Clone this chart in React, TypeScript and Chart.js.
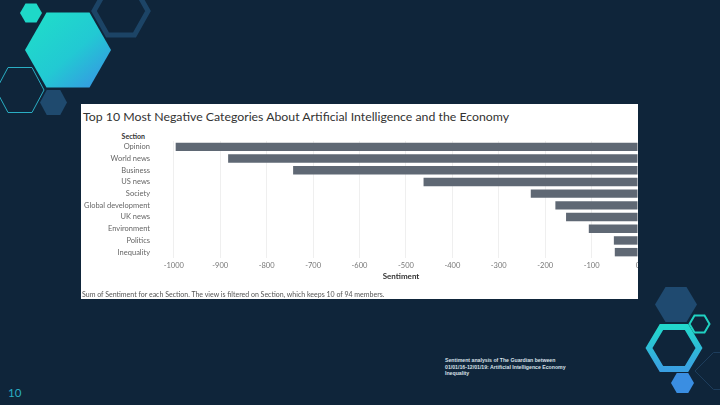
import React, { useEffect, useRef } from "react";
import { Chart, registerables } from "chart.js";

Chart.register(...registerables);

const categories = [
  "Opinion",
  "World news",
  "Business",
  "US news",
  "Society",
  "Global development",
  "UK news",
  "Environment",
  "Politics",
  "Inequality",
];
const sentiment = [-996, -883, -743, -462, -231, -178, -155, -106, -52, -50];
const xTickValues = [-1000, -900, -800, -700, -600, -500, -400, -300, -200, -100, 0];

const titleText = "Top 10 Most Negative Categories About Artificial Intelligence and the Economy";
const xAxisTitle = "Sentiment";
const yAxisTitle = "Section";
const footerText =
  "Sum of Sentiment for each Section. The view is filtered on Section, which keeps 10 of 94 members.";
const captionLines = [
  "Sentiment analysis of The Guardian between",
  "01/01/16-12/01/19: Artificial Intelligence Economy",
  "Inequality",
];

const FONT = "Lato, 'Open Sans', 'DejaVu Sans', sans-serif";

function hexPoints(cx: number, cy: number, w: number, h: number) {
  const pts = [
    [cx - w / 2, cy],
    [cx - w / 4, cy - h / 2],
    [cx + w / 4, cy - h / 2],
    [cx + w / 2, cy],
    [cx + w / 4, cy + h / 2],
    [cx - w / 4, cy + h / 2],
  ];
  return pts.map((p) => p.join(",")).join(" ");
}

function Decorations() {
  return (
    <svg
      width={720}
      height={405}
      style={{ position: "absolute", left: 0, top: 0 }}
      xmlns="http://www.w3.org/2000/svg"
    >
      <defs>
        <linearGradient id="g1" x1="0" y1="0" x2="1" y2="1">
          <stop offset="0" stopColor="#1fe0c8" />
          <stop offset="0.55" stopColor="#22c9d3" />
          <stop offset="1" stopColor="#3a8ee6" />
        </linearGradient>
        <linearGradient id="g2" x1="0" y1="0" x2="0" y2="1">
          <stop offset="0" stopColor="#22d8cc" />
          <stop offset="1" stopColor="#3aa0e2" />
        </linearGradient>
      </defs>
      <polygon points={hexPoints(121, 11, 54, 48)} fill="none" stroke="#1c4466" strokeWidth={5} />
      <polygon points={hexPoints(68, 50, 86, 75)} fill="url(#g1)" />
      <polygon points={hexPoints(31, 13, 22, 19)} fill="#1ed8c8" />
      <polygon points={hexPoints(20, 90, 48, 45)} fill="none" stroke="#2aaec4" strokeWidth={1} />
      <polygon points={hexPoints(53.5, 102.5, 27, 25)} fill="#1f4a6e" />
      <polygon points={hexPoints(676, 304.5, 42, 35)} fill="#1f4a70" />
      <polygon points={hexPoints(699.5, 324, 20, 17)} fill="none" stroke="#20d2c2" strokeWidth={2} />
      <polygon points={hexPoints(674, 348, 50, 42)} fill="none" stroke="url(#g2)" strokeWidth={6} />
      <polygon points={hexPoints(682.5, 383, 23, 20)} fill="#3a8ee2" />
      <polygon points={hexPoints(732, 371, 74, 37)} fill="none" stroke="#1d3d5c" strokeWidth={1} />
    </svg>
  );
}

function BarChart() {
  const ref = useRef<HTMLCanvasElement | null>(null);
  useEffect(() => {
    if (!ref.current) return;
    const chart = new Chart(ref.current, {
      type: "bar",
      data: {
        labels: categories,
        datasets: [
          {
            label: xAxisTitle,
            data: sentiment,
            backgroundColor: "#5f6874",
            borderWidth: 0,
            barPercentage: 0.72,
            categoryPercentage: 1,
          },
        ],
      },
      options: {
        indexAxis: "y",
        responsive: false,
        animation: false,
        devicePixelRatio: 1,
        layout: { padding: { top: 5, bottom: 0, left: 0, right: 0 } },
        plugins: {
          legend: { display: false },
          tooltip: { enabled: false },
        },
        scales: {
          x: {
            min: -1019,
            max: 0,
            afterBuildTicks: (s: any) => {
              s.ticks = xTickValues.map((v) => ({ value: v }));
            },
            afterFit: (s: any) => {
              s.paddingLeft = 0;
              s.paddingRight = 0;
            },
            grid: { color: "#efefef", lineWidth: 1, drawTicks: false },
            border: { display: false },
            ticks: {
              autoSkip: false,
              maxRotation: 0,
              padding: 3,
              color: "#777777",
              font: { family: FONT, size: 7.5 },
              callback: (v: any) => String(v),
            },
          },
          y: {
            afterFit: (s: any) => {
              s.width = 84;
              s.paddingTop = 0;
              s.paddingBottom = 0;
            },
            grid: { display: false, drawTicks: false },
            border: { display: false },
            ticks: {
              autoSkip: false,
              padding: 15,
              color: "#666666",
              font: { family: FONT, size: 7.5 },
            },
          },
        },
      },
    } as any);
    return () => chart.destroy();
  }, []);
  return (
    <canvas
      ref={ref}
      width={557}
      height={137}
      style={{ position: "absolute", left: 0, top: 32, width: 557, height: 137 }}
    />
  );
}

export default function App() {
  return (
    <div
      style={{
        position: "fixed",
        left: 0,
        top: 0,
        width: 720,
        height: 405,
        background: "#0f253a",
        overflow: "hidden",
        fontFamily: FONT,
      }}
    >
      <Decorations />
      <div
        style={{
          position: "absolute",
          left: 81,
          top: 104,
          width: 557,
          height: 195,
          background: "#ffffff",
          overflow: "hidden",
        }}
      >
        <div
          style={{
            position: "absolute",
            left: 2,
            top: 5,
            fontSize: 12.3,
            color: "#333333",
            whiteSpace: "nowrap",
            lineHeight: "16px",
          }}
        >
          {titleText}
        </div>
        <div
          style={{
            position: "absolute",
            right: 557 - 64,
            top: 27,
            fontSize: 7,
            fontWeight: "bold",
            color: "#333333",
            lineHeight: "10px",
            whiteSpace: "nowrap",
          }}
        >
          {yAxisTitle}
        </div>
        <BarChart />
        <div
          style={{
            position: "absolute",
            left: 84,
            width: 472,
            top: 167,
            textAlign: "center",
            fontSize: 8,
            fontWeight: "bold",
            color: "#333333",
            lineHeight: "10px",
            whiteSpace: "nowrap",
          }}
        >
          {xAxisTitle}
        </div>
        <div
          style={{
            position: "absolute",
            left: 1,
            top: 186,
            fontSize: 7,
            color: "#555555",
            whiteSpace: "nowrap",
            lineHeight: "9px",
          }}
        >
          {footerText}
        </div>
      </div>
      <div
        style={{
          position: "absolute",
          left: 445,
          top: 357,
          fontFamily: "'Liberation Sans', Arial, sans-serif",
          fontSize: 5.2,
          lineHeight: "6.5px",
          color: "#d8e0e8",
          fontWeight: "bold",
          whiteSpace: "nowrap",
        }}
      >
        {captionLines.map((l, i) => (
          <div key={i}>{l}</div>
        ))}
      </div>
      <div
        style={{
          position: "absolute",
          left: 8,
          top: 386,
          fontSize: 11.5,
          color: "#2aaec4",
          lineHeight: "14px",
        }}
      >
        10
      </div>
    </div>
  );
}
